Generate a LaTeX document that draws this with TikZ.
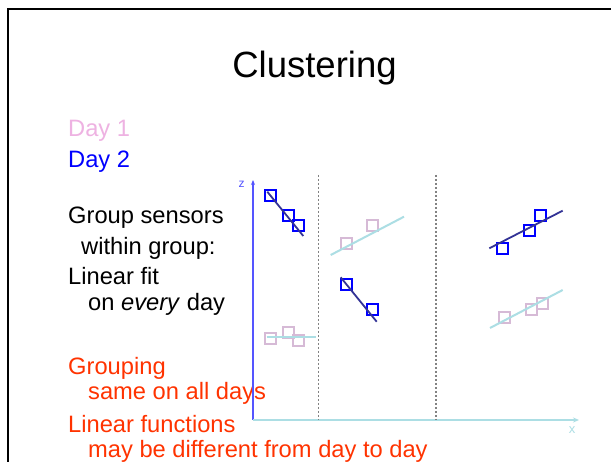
\documentclass[tikz,border=0pt]{standalone}
\usepackage{fontspec}
\setmainfont{Liberation Sans}
\usetikzlibrary{arrows.meta}
\definecolor{dayone}{RGB}{238,178,226}
\definecolor{daytwo}{RGB}{0,0,255}
\definecolor{note}{RGB}{255,51,0}
\definecolor{sqone}{RGB}{214,186,214}
\definecolor{fitone}{RGB}{172,222,228}
\definecolor{fittwo}{RGB}{51,51,150}
\definecolor{zaxis}{RGB}{85,85,255}
\definecolor{divider}{RGB}{130,130,130}
\tikzset{
  txt/.style={anchor=base west, inner sep=0pt, font=\fontsize{23.7}{23.7}\selectfont},
  sqa/.style={draw=sqone, line width=2pt, minimum size=11pt, inner sep=0pt},
  sqb/.style={draw=daytwo, line width=2pt, minimum size=11pt, inner sep=0pt},
  fita/.style={draw=fitone, line width=2pt},
  fitb/.style={draw=fittwo, line width=1.8pt},
  divline/.style={draw=divider, line width=1.2pt, dash pattern=on 2pt off 2pt},
}
\begin{document}
\begin{tikzpicture}[x=1pt, y=-1pt]
\useasboundingbox (0,0) rectangle (611,462);
\fill[white] (0,0) rectangle (611,462);
% frame of the slide
\draw[line width=2pt] (8,470) -- (8,9.5) -- (620,9.5);

% title
\node[anchor=base, inner sep=0pt, font=\fontsize{36.5}{36.5}\selectfont] (title) at (314.5,78) {Clustering};

% legend and notes
\node[txt, text=dayone] (d1) at (68,137) {Day 1};
\node[txt, text=daytwo] (d2) at (68,168) {Day 2};
\node[txt] (t1) at (68,224) {Group sensors};
\node[txt] (t2) at (81,255) {within group:};
\node[txt] (t3) at (68,285) {Linear fit};
\node[txt] (t4) at (88,311) {on \textit{every} day};
\node[txt, text=note] (t5) at (68,375) {Grouping};
\node[txt, text=note] (t6) at (88,400) {same on all days};
\node[txt, text=note] (t7) at (68,432) {Linear functions};
\node[txt, text=note] (t8) at (88,457) {may be different from day to day};

% axes
\coordinate (o) at (253,420);
\coordinate (ztip) at (253,180);
\coordinate (xtip) at (579,420);
\draw[zaxis, line width=1.2pt, -{Stealth[length=5pt,width=4pt]}] (o) -- (ztip);
\draw[fitone, line width=1.2pt, -{Stealth[length=6pt,width=5pt]}] (o) -- (xtip);
\node[text=zaxis, font=\fontsize{12}{12}\selectfont, inner sep=0pt] (zl) at (241.5,184) {z};
\node[text=fitone, font=\fontsize{13}{13}\selectfont, inner sep=0pt] (xl) at (572,430.5) {x};

% group dividers
\coordinate (g1t) at (318.5,175);
\coordinate (g1b) at (318.5,420);
\coordinate (g2t) at (436,175);
\coordinate (g2b) at (436,420);
\draw[divline] (g1t) -- (g1b);
\draw[divline] (g2t) -- (g2b);

% group 1
\node[sqb] (b11) at (270.7,196) {};
\node[sqb] (b12) at (288.3,215.7) {};
\node[sqb] (b13) at (298.7,226) {};
\coordinate (f1s) at (267.3,191.7);
\coordinate (f1e) at (303.3,236);
\draw[fitb] (f1s) -- (f1e);
\node[sqa] (a11) at (270.7,338.3) {};
\node[sqa] (a12) at (288.7,332.7) {};
\node[sqa] (a13) at (298.7,340.7) {};
\coordinate (h1s) at (266.7,336.7);
\coordinate (h1e) at (316,336.7);
\draw[fita] (h1s) -- (h1e);

% group 2
\node[sqa] (a21) at (346,243.3) {};
\node[sqa] (a22) at (372.7,226) {};
\coordinate (h2s) at (330.7,255);
\coordinate (h2e) at (404,216.7);
\draw[fita] (h2s) -- (h2e);
\node[sqb] (b21) at (346,285) {};
\node[sqb] (b22) at (372.7,310) {};
\coordinate (f2s) at (340.7,277.3);
\coordinate (f2e) at (376.7,321.7);
\draw[fitb] (f2s) -- (f2e);

% group 3
\node[sqb] (b31) at (502,249) {};
\node[sqb] (b32) at (529.7,231) {};
\node[sqb] (b33) at (540.7,215.3) {};
\coordinate (f3s) at (489.3,248.3);
\coordinate (f3e) at (562.7,210.7);
\draw[fitb] (f3s) -- (f3e);
\node[sqa] (a31) at (504.3,317.7) {};
\node[sqa] (a32) at (531.7,309.3) {};
\node[sqa] (a33) at (542.7,304) {};
\coordinate (h3s) at (490,328);
\coordinate (h3e) at (562.7,290);
\draw[fita] (h3s) -- (h3e);
\end{tikzpicture}
\end{document}
